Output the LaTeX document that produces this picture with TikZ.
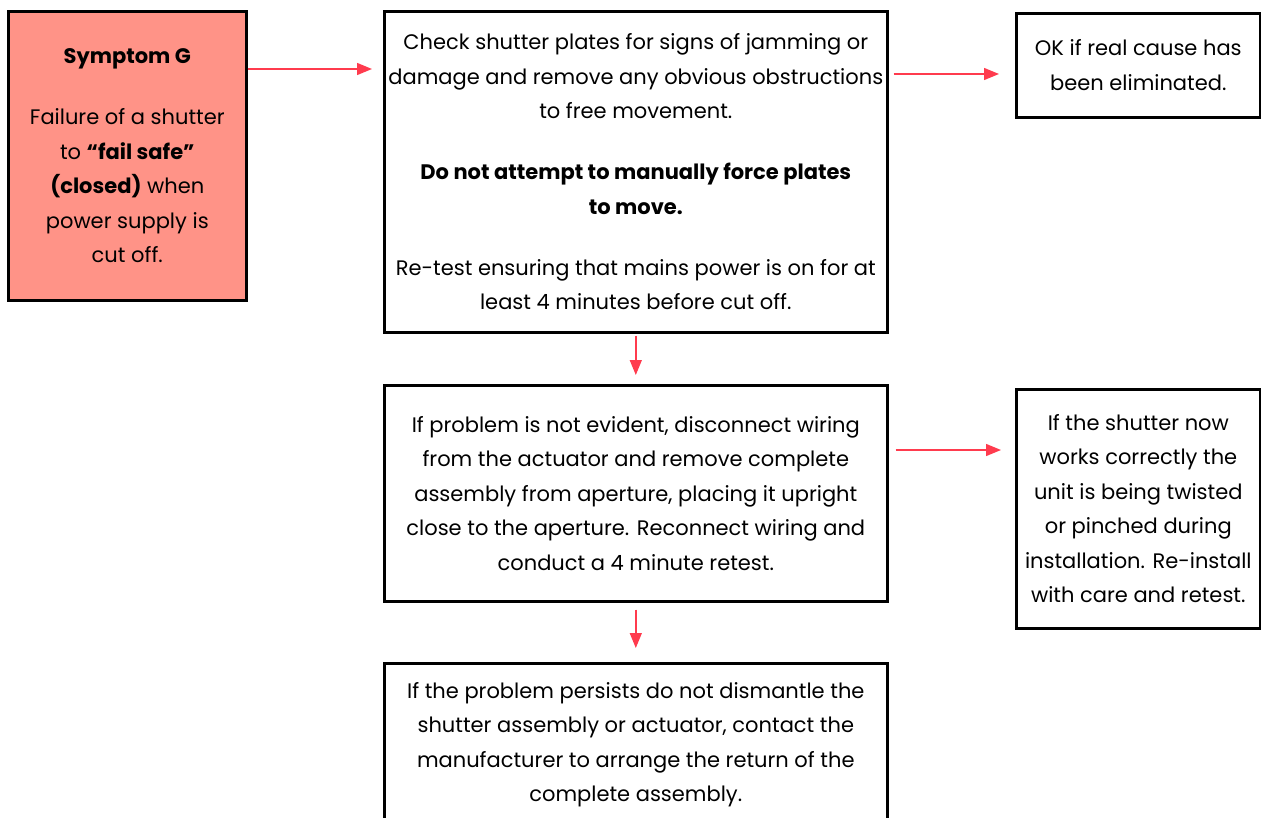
\documentclass[tikz,border=0pt]{standalone}
\usepackage{fontspec}
\setmainfont{Poppins}
\usetikzlibrary{arrows.meta}
\definecolor{symfill}{HTML}{FF9387}
\definecolor{arrred}{HTML}{FF3B4E}
\begin{document}
\begin{tikzpicture}[x=1pt,y=-1pt,
  box/.style={draw=black, line width=2.6pt, anchor=north west, align=center, inner sep=0pt,
    font=\fontsize{21}{34.5}\selectfont},
  arr/.style={draw=arrred, line width=1.4pt, -{Triangle[length=15pt,width=12pt]}}]
\useasboundingbox (0,0) rectangle (1261,818);
\fill[white] (0,0) rectangle (1261,818);
\node[box, fill=symfill, minimum width=238pt, minimum height=289pt] (sym) at (7,10)
  {\textbf{Symptom G}\\[26.5pt]
   Failure of a shutter\\ to \textbf{“fail safe”}\\ \textbf{(closed)} when\\ power supply is\\ cut off.};
\node[box, minimum width=503pt, minimum height=321pt] (a) at (383,10)
  {Check shutter plates for signs of jamming or\\ damage and remove any obvious obstructions\\ to free movement.\\[26.5pt]
   \textbf{Do not attempt to manually force plates}\\ \textbf{to move.}\\[26.5pt]
   Re-test ensuring that mains power is on for at\\ least 4 minutes before cut off.};
\node[box, minimum width=244pt, minimum height=104pt] (b) at (1015,12)
  {OK if real cause has\\ been eliminated.};
\node[box, minimum width=503pt, minimum height=216pt] (c) at (383,384)
  {If problem is not evident, disconnect wiring\\ from the actuator and remove complete\\ assembly from aperture, placing it upright\\ close to the aperture. Reconnect wiring and\\ conduct a 4 minute retest.};
\node[box, minimum width=244pt, minimum height=239pt] (d) at (1015,388)
  {If the shutter now\\ works correctly the\\ unit is being twisted\\ or pinched during\\ installation. Re-install\\ with care and retest.};
\node[box, minimum width=503pt, minimum height=163pt] (e) at (383,662)
  {If the problem persists do not dismantle the\\ shutter assembly or actuator, contact the\\ manufacturer to arrange the return of the\\ complete assembly.};
\draw[arr, shorten >=11pt] ([yshift=-59pt]sym.north east) -- ([yshift=-59pt]sym.north east -| a.west);
\draw[arr, shorten <=5pt, shorten >=16pt] ([yshift=-64pt]a.north east) -- ([yshift=-64pt]a.north east -| b.west);
\draw[arr, shorten <=2pt, shorten >=9pt] (a.south) -- (c.north);
\draw[arr, shorten <=7pt, shorten >=14pt] ([yshift=-66pt]c.north east) -- ([yshift=-66pt]c.north east -| d.west);
\draw[arr, shorten <=7pt, shorten >=14pt] (c.south) -- (e.north);
\end{tikzpicture}
\end{document}
